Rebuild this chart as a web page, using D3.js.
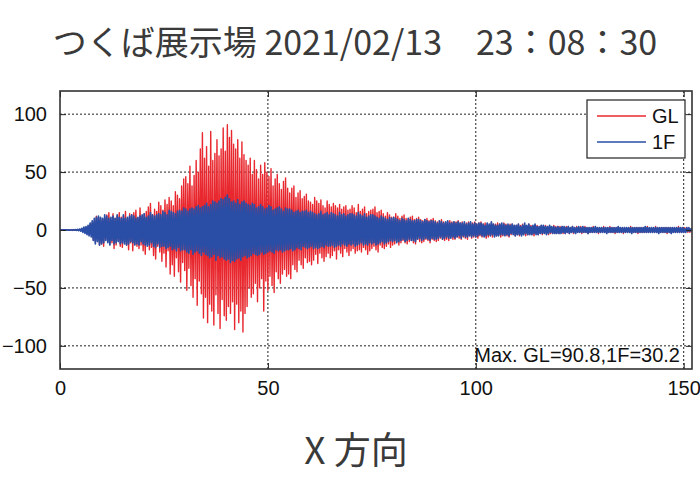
<!DOCTYPE html>
<html>
<head>
<meta charset="utf-8">
<script src="https://cdn.jsdelivr.net/npm/d3@7"></script>
<style>
  body { margin: 0; background: #fff; }
</style>
</head>
<body>
<svg id="chart" width="700" height="477"></svg>
<script>
// sample step (s) for both records
let dt = 0.25
let xTicks = [0, 50, 100, 150]
let yTicks = [-100, -50, 0, 50, 100]
let seriesNames = ["GL", "1F"]
let seriesColors = ["#e8282e", "#2a4ea6"]

// GL record, every 0.25 s from t = 0 (one row = 5 s)
let glValues = [
  0, 0.1, -0.1, 0.2, -0.1, 0.1, -0.2, 0.2, -0.1, 0.2, -0.2, 0.1, -0.2, 0.3, -0.2, 0.2, -0.3, 0.3, -0.2, 0.4,
  -0.5, 0.8, -1, 1.5, -2, 2.5, -3, 2, -4, 5, -3, 6, -8, 7, -10, 12, -9, 11, -13, 10,
  -12, 9, -14, 11, -8, 13, -10, 15, -12, 8, -11, 14, -16, 10, -13, 12, -9, 15, -14, 11,
  -15, 12, -10, 16, -13, 9, -17, 14, -11, 13, -18, 15, -12, 17, -14, 10, -16, 19, -13, 12,
  -18, 14, -21, 16, -12, 20, -17, 23, -15, 13, -22, 18, -25, 16, -14, 24, -19, 21, -27, 17,
  -20, 26, -32, 22, -18, 28, -38, 25, -30, 21, -40, 33, -24, 30, -36, 27, -45, 38, -28, 44,
  -35, 46, -52, 40, -33, 55, -48, 38, -58, 47, -42, 60, -65, 50, -44, 70, -55, 84, -76, 62,
  -58, 72, -80, 55, -64, 85, -70, 60, -82, 66, -56, 78, -72, 64, -85, 70, -60, 88, -74, 68,
  -78, 90.8, -66, 80, -72, 86, -62, 74, -86, 70, -64, 78, -80, 62, -70, 76, -88, 65, -72, 60,
  -66, 56, -50, 62, -58, 48, -55, 60, -46, 52, -62, 44, -50, 56, -42, 48, -70, 58, -44, 50,
  -52, 46, -40, 53, -48, 38, -54, 44, -36, 48, -42, 40, -46, 35, -38, 42, -34, 45, -40, 36,
  -38, 32, -42, 36, -30, 38, -34, 28, -36, 32, -26, 34, -30, 27, -33, 29, -24, 31, -28, 25,
  -27, 24, -30, 22, -26, 28, -21, 25, -29, 23, -20, 26, -24, 21, -27, 19, -23, 25, -20, 22,
  -24, 20, -22, 23, -18, 21, -25, 19, -17, 22, -20, 18, -23, 20, -16, 21, -19, 17, -22, 18,
  -18, 21, -16, 19, -20, 15, -18, 22, -17, 16, -19, 18, -15, 20, -17, 14, -21, 16, -18, 17,
  -16, 18, -14, 20, -17, 15, -19, 16, -13, 17, -15, 14, -16, 12, -14, 15, -12, 13, -15, 11,
  -13, 11, -12, 14, -10, 12, -13, 10, -11, 12, -9, 13, -11, 10, -12, 9, -10, 11, -9, 12,
  -11, 9, -12, 10, -8, 11, -10, 9, -11, 8, -10, 9, -8, 10, -9, 8, -11, 9, -8, 10,
  -9, 8, -10, 7, -9, 8, -7, 9, -8, 7, -9, 6, -8, 7, -9, 8, -6, 7, -8, 7,
  -8, 7, -6, 8, -7, 6, -8, 7, -6, 5, -7, 6, -8, 7, -5, 6, -7, 6, -6, 7,
  -6, 5, -7, 6, -5, 7, -6, 5, -4, 6, -7, 5, -6, 4, -5, 6, -6, 5, -4, 5,
  -5, 6, -4, 5, -6, 4, -5, 6, -4, 5, -5, 4, -6, 5, -4, 5, -3, 4, -5, 4,
  -4, 5, -5, 4, -3, 5, -4, 4, -5, 3, -4, 5, -3, 4, -4, 3, -5, 4, -3, 4,
  -4, 3, -3, 4, -4, 3, -3, 4, -2, 3, -4, 3, -3, 2, -3, 4, -3, 3, -2, 3,
  -3, 3, -2, 3, -3, 2, -3, 3, -2, 3, -3, 2, -2, 3, -3, 2, -2, 3, -2, 2,
  -2, 3, -3, 2, -2, 3, -2, 2, -3, 2, -2, 2, -2, 3, -2, 2, -2, 2, -3, 2,
  -2, 2, -2, 3, -2, 2, -2, 2, -2, 3, -2, 2, -2, 2, -3, 2, -2, 2, -2, 2,
  -2, 2, -3, 2, -2, 2, -2, 2, -2, 3, -2, 2, -2, 2, -2, 2, -3, 2, -2, 2,
  -2, 2, -2, 2, -2, 3, -2, 2, -2, 2, -2, 2, -2, 3, -2, 2, -2, 2, -2, 2,
  -2, 2, -2, 2, -3, 2, -2, 2, -2, 2, -2, 2, -2, 2, -2, 3, -2, 2, -2, 2,
  -2, 2, -1, 2, -2, 1, -2, 1, -1
]

// 1F record, every 0.25 s from t = 0 (one row = 5 s)
let f1Values = [
  0, 0.1, -0.1, 0.1, -0.1, 0.2, -0.1, 0.2, -0.2, 0.1, -0.2, 0.2, -0.3, 0.3, -0.2, 0.4, -0.4, 0.5, -0.5, 0.8,
  -1, 1.5, -2, 2.5, -3, 3, -4, 4, -5, 6, -6, 8, -9, 10, -12, 11, -10, 12, -13, 11,
  -12, 10, -11, 13, -9, 12, -11, 10, -13, 11, -9, 12, -12, 10, -11, 13, -10, 11, -12, 10,
  -11, 13, -12, 10, -13, 11, -12, 12, -10, 13, -11, 12, -13, 10, -12, 11, -13, 12, -10, 13,
  -12, 14, -13, 11, -14, 12, -13, 15, -11, 13, -14, 12, -15, 13, -12, 14, -15, 13, -14, 16,
  -14, 15, -16, 13, -15, 17, -14, 16, -17, 15, -16, 14, -18, 16, -15, 17, -18, 16, -17, 19,
  -17, 18, -19, 16, -20, 18, -17, 19, -21, 18, -19, 20, -18, 21, -20, 19, -22, 20, -19, 21,
  -21, 23, -22, 20, -24, 22, -23, 25, -21, 24, -26, 23, -22, 25, -24, 27, -23, 26, -25, 28,
  -26, 30.2, -25, 27, -28, 24, -26, 25, -27, 23, -25, 26, -24, 22, -26, 24, -23, 25, -22, 23,
  -24, 22, -23, 21, -22, 23, -20, 22, -21, 19, -22, 20, -21, 22, -19, 20, -21, 18, -20, 19,
  -19, 21, -18, 20, -19, 17, -20, 18, -17, 19, -18, 20, -17, 18, -19, 16, -18, 19, -17, 18,
  -17, 18, -16, 17, -18, 15, -17, 16, -15, 17, -16, 15, -17, 16, -14, 16, -15, 17, -16, 15,
  -15, 16, -14, 15, -16, 14, -15, 13, -16, 14, -15, 16, -14, 13, -15, 14, -13, 15, -14, 13,
  -14, 15, -13, 14, -15, 13, -14, 12, -13, 15, -14, 13, -12, 14, -13, 12, -14, 13, -12, 14,
  -13, 14, -12, 13, -14, 12, -13, 15, -12, 13, -11, 12, -13, 14, -12, 11, -13, 12, -11, 13,
  -12, 13, -11, 12, -13, 11, -12, 10, -11, 12, -10, 11, -12, 10, -11, 9, -10, 11, -9, 10,
  -10, 11, -9, 10, -11, 9, -10, 8, -9, 10, -8, 9, -10, 8, -9, 10, -8, 9, -9, 8,
  -9, 8, -10, 9, -8, 9, -7, 8, -9, 7, -8, 9, -7, 8, -8, 7, -9, 8, -7, 8,
  -8, 7, -8, 6, -7, 8, -6, 7, -8, 6, -7, 7, -6, 8, -7, 6, -7, 6, -6, 7,
  -7, 6, -6, 7, -5, 6, -7, 6, -5, 7, -6, 5, -6, 6, -5, 7, -6, 5, -5, 6,
  -6, 5, -5, 6, -4, 6, -5, 5, -6, 4, -5, 6, -4, 5, -5, 7, -4, 5, -6, 4,
  -5, 4, -5, 5, -4, 6, -4, 5, -5, 4, -4, 5, -5, 4, -3, 5, -4, 4, -5, 4,
  -4, 5, -4, 3, -5, 4, -4, 6, -3, 4, -4, 5, -4, 3, -4, 4, -3, 5, -4, 3,
  -4, 3, -3, 4, -3, 4, -3, 3, -4, 3, -3, 4, -2, 3, -3, 3, -3, 2, -3, 3,
  -3, 2, -3, 3, -2, 3, -3, 2, -2, 3, -3, 2, -2, 3, -2, 2, -3, 2, -2, 3,
  -2, 2, -2, 3, -2, 2, -2, 2, -3, 2, -2, 2, -2, 2, -2, 3, -2, 2, -2, 2,
  -2, 2, -2, 2, -2, 2, -3, 2, -2, 2, -2, 2, -2, 2, -2, 2, -2, 3, -2, 2,
  -2, 2, -2, 2, -2, 2, -2, 2, -2, 2, -3, 2, -2, 2, -2, 2, -2, 2, -2, 2,
  -2, 2, -2, 3, -2, 2, -2, 2, -2, 2, -2, 2, -2, 2, -2, 2, -3, 2, -2, 2,
  -2, 2, -2, 2, -2, 2, -2, 2, -3, 2, -2, 2, -2, 2, -2, 2, -2, 2, -2, 2,
  -2, 1, -2, 2, -1, 2, -1, 1, -1
]

let titleText = "つくば展示場 2021/02/13　23：08：30"
let xLabelText = "X 方向"
let noteText = "Max. GL=90.8,1F=30.2"

let margin = {top: 91, right: 8, bottom: 108, left: 60}
let width = 700, height = 477
let cjk = "'Noto Sans CJK JP', 'Noto Sans', sans-serif"
let latin = "'Liberation Sans', Arial, sans-serif"

let x = d3.scaleLinear().domain([0, 152]).range([margin.left, width - margin.right])
let y = d3.scaleLinear().domain([-120, 120]).range([height - margin.bottom, margin.top])

const svg = d3.select("#chart")

svg.append("text")
    .attr("x", 355).attr("y", 55)
    .attr("text-anchor", "middle")
    .attr("font-family", cjk)
    .attr("font-size", 34)
    .attr("fill", "#3a3a3a")
    .text(titleText)

svg.append("text")
    .attr("x", 356).attr("y", 464)
    .attr("text-anchor", "middle")
    .attr("font-family", cjk)
    .attr("font-size", 37)
    .attr("fill", "#3a3a3a")
    .text(xLabelText)

svg.append("clipPath").attr("id", "plot")
  .append("rect")
    .attr("x", x(0)).attr("y", y(120))
    .attr("width", x(152) - x(0)).attr("height", y(-120) - y(120))

// grid
svg.append("g")
  .selectAll("line")
  .data(yTicks)
  .join("line")
    .attr("x1", x(0)).attr("x2", x(152))
    .attr("y1", d => y(d)).attr("y2", d => y(d))
    .attr("stroke", "#222").attr("stroke-width", 1)
    .attr("stroke-dasharray", "2,2")

svg.append("g")
  .selectAll("line")
  .data(xTicks.filter(d => d > 0))
  .join("line")
    .attr("x1", d => x(d)).attr("x2", d => x(d))
    .attr("y1", y(120)).attr("y2", y(-120))
    .attr("stroke", "#222").attr("stroke-width", 1)
    .attr("stroke-dasharray", "2,2")

// waveforms
let line = d3.line()
    .x((d, i) => x(i * dt))
    .y(d => y(d))

let traces = svg.append("g").attr("clip-path", "url(#plot)")
;[glValues, f1Values].forEach((vals, k) => {
  traces.append("path")
      .datum(vals)
      .attr("fill", "none")
      .attr("stroke", seriesColors[k])
      .attr("stroke-width", k === 0 ? 1.4 : 1.7)
      .attr("stroke-linejoin", "round")
      .attr("d", line)
})

// axes with inward ticks
let ax = svg.append("g")
    .attr("font-family", latin)
    .attr("font-size", 20)
    .attr("fill", "#111")

ax.append("g")
    .attr("transform", `translate(0,${y(-120)})`)
    .call(d3.axisBottom(x).tickValues(xTicks).tickSizeInner(-6).tickSizeOuter(0).tickPadding(12))
ax.append("g")
    .attr("transform", `translate(0,${y(120)})`)
    .call(d3.axisTop(x).tickValues(xTicks).tickSizeInner(-6).tickSizeOuter(0).tickFormat(""))
ax.append("g")
    .attr("transform", `translate(${x(0)},0)`)
    .call(d3.axisLeft(y).tickValues(yTicks).tickSizeInner(-6).tickSizeOuter(0).tickPadding(13)
      .tickFormat(d => d < 0 ? "\u2212" + Math.abs(d) : d))
ax.append("g")
    .attr("transform", `translate(${x(152)},0)`)
    .call(d3.axisRight(y).tickValues(yTicks).tickSizeInner(-6).tickSizeOuter(0).tickFormat(""))

ax.selectAll(".domain").remove()
ax.selectAll("text").attr("fill", "#111").attr("font-size", 20)
ax.selectAll(".tick line").attr("stroke", "#222")

svg.append("rect")
    .attr("x", x(0)).attr("y", y(120))
    .attr("width", x(152) - x(0)).attr("height", y(-120) - y(120))
    .attr("fill", "none").attr("stroke", "#333").attr("stroke-width", 1.6)

// note
svg.append("text")
    .attr("x", 680).attr("y", 362)
    .attr("text-anchor", "end")
    .attr("font-family", latin)
    .attr("font-size", 20)
    .attr("fill", "#111")
    .text(noteText)

// legend
let lg = svg.append("g").attr("transform", "translate(587,100)")
lg.append("rect")
    .attr("width", 98).attr("height", 58)
    .attr("fill", "#fff").attr("stroke", "#333").attr("stroke-width", 1.3)
seriesNames.forEach((name, k) => {
  lg.append("line")
      .attr("x1", 10).attr("x2", 59)
      .attr("y1", 16 + k * 26).attr("y2", 16 + k * 26)
      .attr("stroke", seriesColors[k]).attr("stroke-width", 1.5)
  lg.append("text")
      .attr("x", 65).attr("y", 23 + k * 26)
      .attr("font-family", latin).attr("font-size", 20)
      .attr("fill", "#111")
      .text(name)
})
</script>
</body>
</html>
